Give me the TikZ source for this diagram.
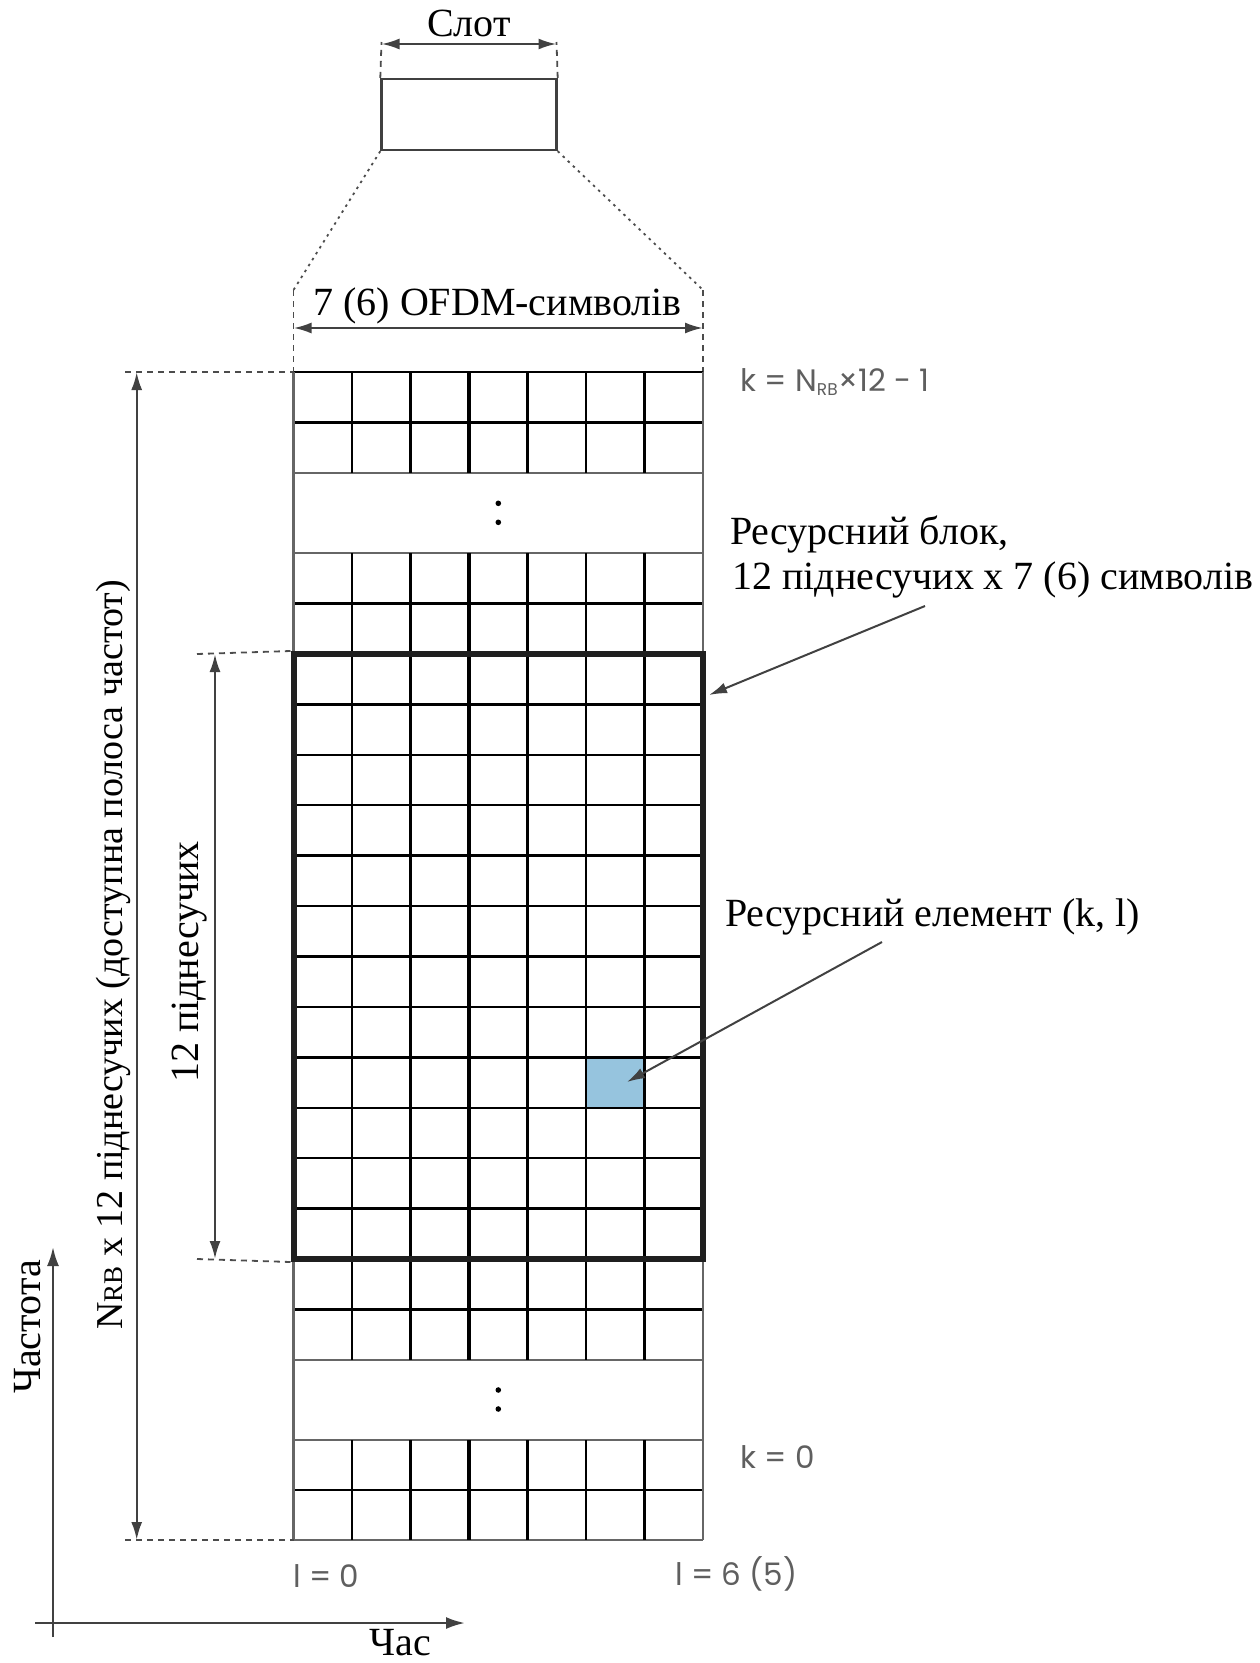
\documentclass[tikz,border=0pt]{standalone}
\usepackage{fontspec}
\setmainfont{Liberation Serif}
\newfontfamily\kfont{Poppins}
\usetikzlibrary{arrows.meta}
\definecolor{cellblue}{RGB}{150,196,222}
\definecolor{lblgray}{RGB}{95,95,95}
\definecolor{axisgray}{RGB}{65,65,65}
\begin{document}
\begin{tikzpicture}[x=1pt,y=-1pt,
  gridline/.style={line width=2.4pt,black},
  edgeline/.style={line width=2.2pt,black!60},
  blockframe/.style={line width=6pt,black!88},
  dimarr/.style={line width=2.4pt,axisgray,{Latex[length=18pt,width=11pt]}-{Latex[length=18pt,width=11pt]}},
  ptr/.style={line width=2pt,axisgray,-{Latex[length=18pt,width=11pt]}},
  axisarr/.style={line width=2.4pt,axisgray,-{Latex[length=19pt,width=12pt]}},
  guide/.style={line width=1.8pt,black!70,dash pattern=on 6pt off 5pt},
  dotguide/.style={line width=1.8pt,black!70,dash pattern=on 2.5pt off 4.5pt},
  serif/.style={font=\fontsize{40}{44}\selectfont,inner sep=0pt},
  sanslbl/.style={font=\kfont\fontsize{31}{34}\selectfont,text=lblgray,inner sep=0pt},
]
\useasboundingbox (0,0) rectangle (1259,1663);

% ---------- slot box at top ----------
\node (slot) [draw,line width=2.4pt,black!75,minimum width=175pt,minimum height=71pt,inner sep=0pt] at (469,114.5) {};
\coordinate (slotTL) at (slot.north west);
\coordinate (slotTR) at (slot.north east);
\coordinate (slotBL) at (slot.south west);
\coordinate (slotBR) at (slot.south east);
\coordinate (slotDL) at (381.5,42);
\coordinate (slotDR) at (556.5,42);
\draw[guide] (slotTL) -- (slotDL);
\draw[guide] (slotTR) -- (slotDR);
\coordinate (slotAL) at (381.5,44);
\coordinate (slotAR) at (556.5,44);
\draw[dimarr] (slotAL) -- (slotAR);
\node (slotlbl) [serif,anchor=base] at (469,36) {Слот};

% ---------- zoom lines ----------
\coordinate (zL) at (293.5,290);
\coordinate (zR) at (703,290);
\coordinate (gTL) at (293.5,372);
\coordinate (gTR) at (703,372);
\draw[dotguide] (slotBL) -- (zL);
\draw[dotguide] (slotBR) -- (zR);
\draw[guide] (zL) -- (gTL);
\draw[guide] (zR) -- (gTR);
\coordinate (ofL) at (293.5,328);
\coordinate (ofR) at (703,328);
\draw[dimarr] (ofL) -- (ofR);
\node (ofdm) [serif,anchor=base] at (497.5,315) {7 (6) OFDM-символів};

% ---------- resource element fill ----------
\fill[cellblue] (586,1057.4) rectangle (644.5,1107.8);

% ---------- grid ----------
\foreach \yy in {372,422.5,603.5,1309.5,1490}
  \draw[gridline] (293.5,\yy) -- (703,\yy);
\foreach \k in {1,...,11}
  \draw[gridline] (293.5,654+50.4167*\k) -- (703,654+50.4167*\k);
\foreach \yy in {473,553,1360,1440,1540}
  \draw[edgeline] (293.5,\yy) -- (703,\yy);
\foreach \xx/\w in {352/2.4,410.5/2.8,469/3.2,527.5/2.8,586/2.4,644.5/2.8} {
  \draw[black,line width=\w pt] (\xx,372) -- (\xx,473);
  \draw[black,line width=\w pt] (\xx,553) -- (\xx,1360);
  \draw[black,line width=\w pt] (\xx,1440) -- (\xx,1540);
}
\draw[edgeline] (293.5,372) -- (293.5,1540);
\draw[edgeline] (703,372) -- (703,1540);
\node (rb) [draw,blockframe,minimum width=409.5pt,minimum height=605pt,inner sep=0pt] at (498.25,956.5) {};

\fill (498.3,503.3) circle (2.8pt);
\fill (498.3,522.3) circle (2.8pt);
\fill (498.3,1390) circle (2.8pt);
\fill (498.3,1409) circle (2.8pt);

% ---------- left dimension lines ----------
\coordinate (nT) at (136.7,372);
\coordinate (nB) at (136.7,1540);
\coordinate (nTd) at (125,372);
\coordinate (nBd) at (125,1540);
\coordinate (gBL) at (293.5,1540);
\draw[guide] (nTd) -- (gTL);
\draw[guide] (nBd) -- (gBL);
\draw[dimarr] (nT) -- (nB);
\node (nrb) [serif,font=\fontsize{38}{42}\selectfont,rotate=90,anchor=base] at (122,955)
  {N{\fontsize{27}{30}\selectfont RB} x 12 піднесучих (доступна полоса частот)};

\coordinate (sT) at (215,654);
\coordinate (sB) at (215,1259);
\coordinate (sTd) at (197,654);
\coordinate (sBd) at (197,1259);
\draw[guide] (sTd) -- (rb.north west);
\draw[guide] (sBd) -- (rb.south west);
\draw[dimarr] (sT) -- (sB);
\node (sub12) [serif,rotate=90,anchor=base] at (198,962) {12 піднесучих};

% ---------- right labels ----------
\node (ktop) [sanslbl,anchor=base west] at (740,391.7) {k = N\textsubscript{\fontsize{17}{18}\selectfont RB}×12 - 1};
\node (kzero) [sanslbl,anchor=base west] at (740,1468) {k = 0};
\node (lzero) [sanslbl,anchor=base west] at (293,1587) {l = 0};
\node (lsix) [sanslbl,anchor=base west] at (675,1585) {l = 6 (5)};

\node (rblbl1) [serif,anchor=base west] at (730,544.6) {Ресурсний блок,};
\node (rblbl2) [serif,anchor=base west] at (732,589) {12 піднесучих х 7 (6) символів};
\coordinate (rbFrom) at (925,606);
\coordinate (rbTip) at (709,695);
\draw[ptr] (rbFrom) -- (rbTip);

\node (relbl) [serif,anchor=base west] at (725,926.7) {Ресурсний елемент (k, l)};
\coordinate (reFrom) at (882,942);
\coordinate (reTip) at (627,1082);
\draw[ptr] (reFrom) -- (reTip);

% ---------- axes ----------
\coordinate (ax0v) at (53,1637);
\coordinate (axTop) at (53,1247);
\coordinate (ax0h) at (35,1623);
\coordinate (axRight) at (465,1623);
\draw[axisarr] (ax0v) -- (axTop);
\draw[axisarr] (ax0h) -- (axRight);
\node (freq) [serif,rotate=90,anchor=base] at (40,1327) {Частота};
\node (time) [serif,anchor=base] at (400,1655) {Час};
\end{tikzpicture}
\end{document}
